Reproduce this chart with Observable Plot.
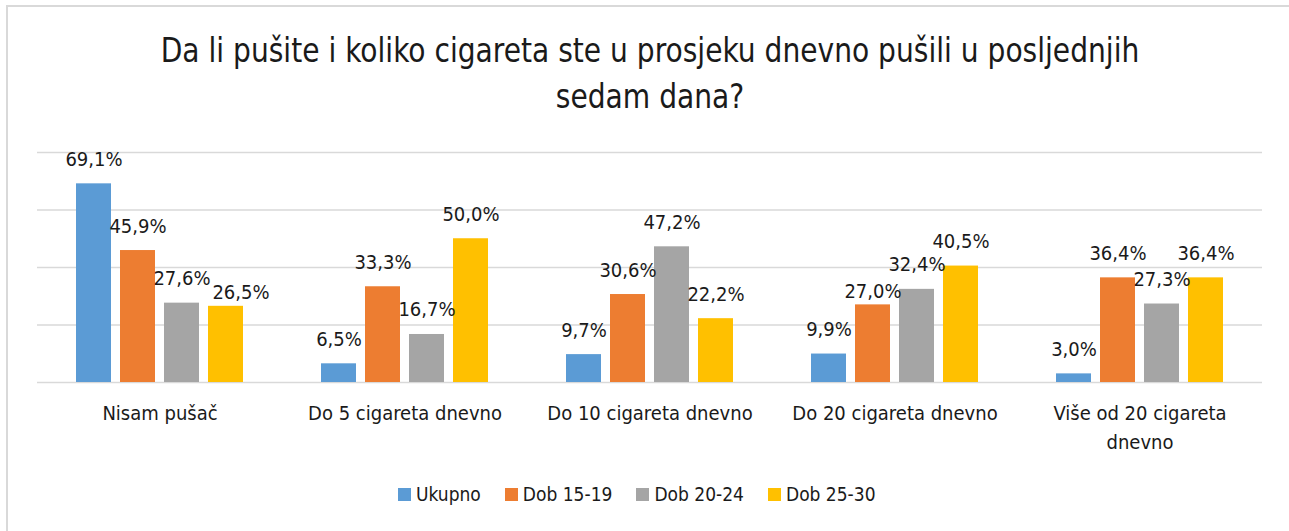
<!DOCTYPE html>
<html><head><meta charset="utf-8">
<script src="https://cdn.jsdelivr.net/npm/d3@7"></script>
<script src="https://cdn.jsdelivr.net/npm/@observablehq/plot@0.6"></script>
<style>
body{margin:0;background:#fff;}
#wrap{position:relative;width:1289px;height:531px;overflow:hidden;font-family:"Liberation Sans Narrow","DejaVu Sans Condensed",sans-serif;color:#1a1a1a;}
#frame{position:absolute;left:6px;top:5px;right:-10px;bottom:-10px;border-left:2px solid #d9d9d9;border-top:2px solid #d9d9d9;}
#title{position:absolute;left:0;width:1300px;top:28px;text-align:center;font-size:33px;line-height:46px;transform:scaleX(0.947);transform-origin:650px 0;}
#chart{position:absolute;left:0;top:130px;}
#legend{position:absolute;top:482px;left:398px;display:flex;align-items:center;font-size:19px;line-height:24px;white-space:nowrap;}
.item{display:flex;align-items:center;margin-right:24px;}
.sw{width:13px;height:13px;margin-right:5px;}
</style></head>
<body>
<div id="wrap">
<div id="frame"></div>
<div id="title">Da li pušite i koliko cigareta ste u prosjeku dnevno pušili u posljednjih<br>sedam dana?</div>
<div id="chart"></div>
<div id="legend"></div>
</div>
<script>
const categories = ["Nisam pušač", "Do 5 cigareta dnevno", "Do 10 cigareta dnevno", "Do 20 cigareta dnevno", "Više od 20 cigareta dnevno"];
const tickLabels = ["Nisam pušač", "Do 5 cigareta dnevno", "Do 10 cigareta dnevno", "Do 20 cigareta dnevno", "Više od 20 cigareta\ndnevno"];
const seriesNames = ["Ukupno", "Dob 15-19", "Dob 20-24", "Dob 25-30"];
const ukupno = [69.1, 6.5, 9.7, 9.9, 3.0];
const dob1519 = [45.9, 33.3, 30.6, 27.0, 36.4];
const dob2024 = [27.6, 16.7, 47.2, 32.4, 27.3];
const dob2530 = [26.5, 50.0, 22.2, 40.5, 36.4];
const colors = ["#5b9bd5", "#ed7d31", "#a5a5a5", "#ffc000"];
const gridValues = [0, 20, 40, 60, 80];

const seriesValues = [ukupno, dob1519, dob2024, dob2530];
const rows = [];
categories.forEach((c, i) => {
  seriesNames.forEach((s, j) => rows.push({category: c, series: s, value: seriesValues[j][i]}));
});
const fmt = v => v.toFixed(1).replace(".", ",") + "%";
const font = '"Liberation Sans Narrow","DejaVu Sans Condensed",sans-serif';

// labels that the original chart nudged to avoid collisions
const isA = d => d.category === categories[0] && d.series === seriesNames[3];
const isB = d => d.category === categories[3] && d.series === seriesNames[1];
const labelOpts = {fx: "category", x: "series", y: "value", text: d => fmt(d.value), lineAnchor: "bottom", fontSize: 20, fill: "#1a1a1a"};

const chart = Plot.plot({
  width: 1289,
  height: 340,
  marginLeft: 36,
  marginRight: 26,
  marginTop: 22,
  marginBottom: 88,
  style: {fontFamily: font, fontSize: "20px", color: "#1a1a1a", background: "transparent"},
  fx: {domain: categories, paddingInner: 0, paddingOuter: 0, axis: null},
  x: {domain: seriesNames, paddingInner: 0.21, paddingOuter: 0.88, axis: null},
  y: {domain: [0, 80], axis: null},
  color: {domain: seriesNames, range: colors},
  marks: [
    Plot.ruleY(gridValues, {stroke: "#d9d9d9", strokeWidth: 1.5}),
    Plot.barY(rows, {fx: "category", x: "series", y: "value", fill: "series"}),
    Plot.text(rows, {...labelOpts, filter: d => !isA(d) && !isB(d), dy: -18}),
    Plot.text(rows, {...labelOpts, filter: isA, dy: -7, dx: 15}),
    Plot.text(rows, {...labelOpts, filter: isB, dy: -7}),
    Plot.axisFx({anchor: "bottom", tickSize: 0, tickPadding: 17, label: null, fontSize: 20, lineHeight: 1.45,
      tickFormat: d => tickLabels[categories.indexOf(d)]})
  ]
});
document.getElementById("chart").appendChild(chart);

const legend = document.getElementById("legend");
seriesNames.forEach((s, j) => {
  const it = document.createElement("div");
  it.className = "item";
  const sw = document.createElement("div");
  sw.className = "sw";
  sw.style.background = colors[j];
  const t = document.createElement("span");
  t.textContent = s;
  it.appendChild(sw); it.appendChild(t);
  legend.appendChild(it);
});
</script>
</body></html>
